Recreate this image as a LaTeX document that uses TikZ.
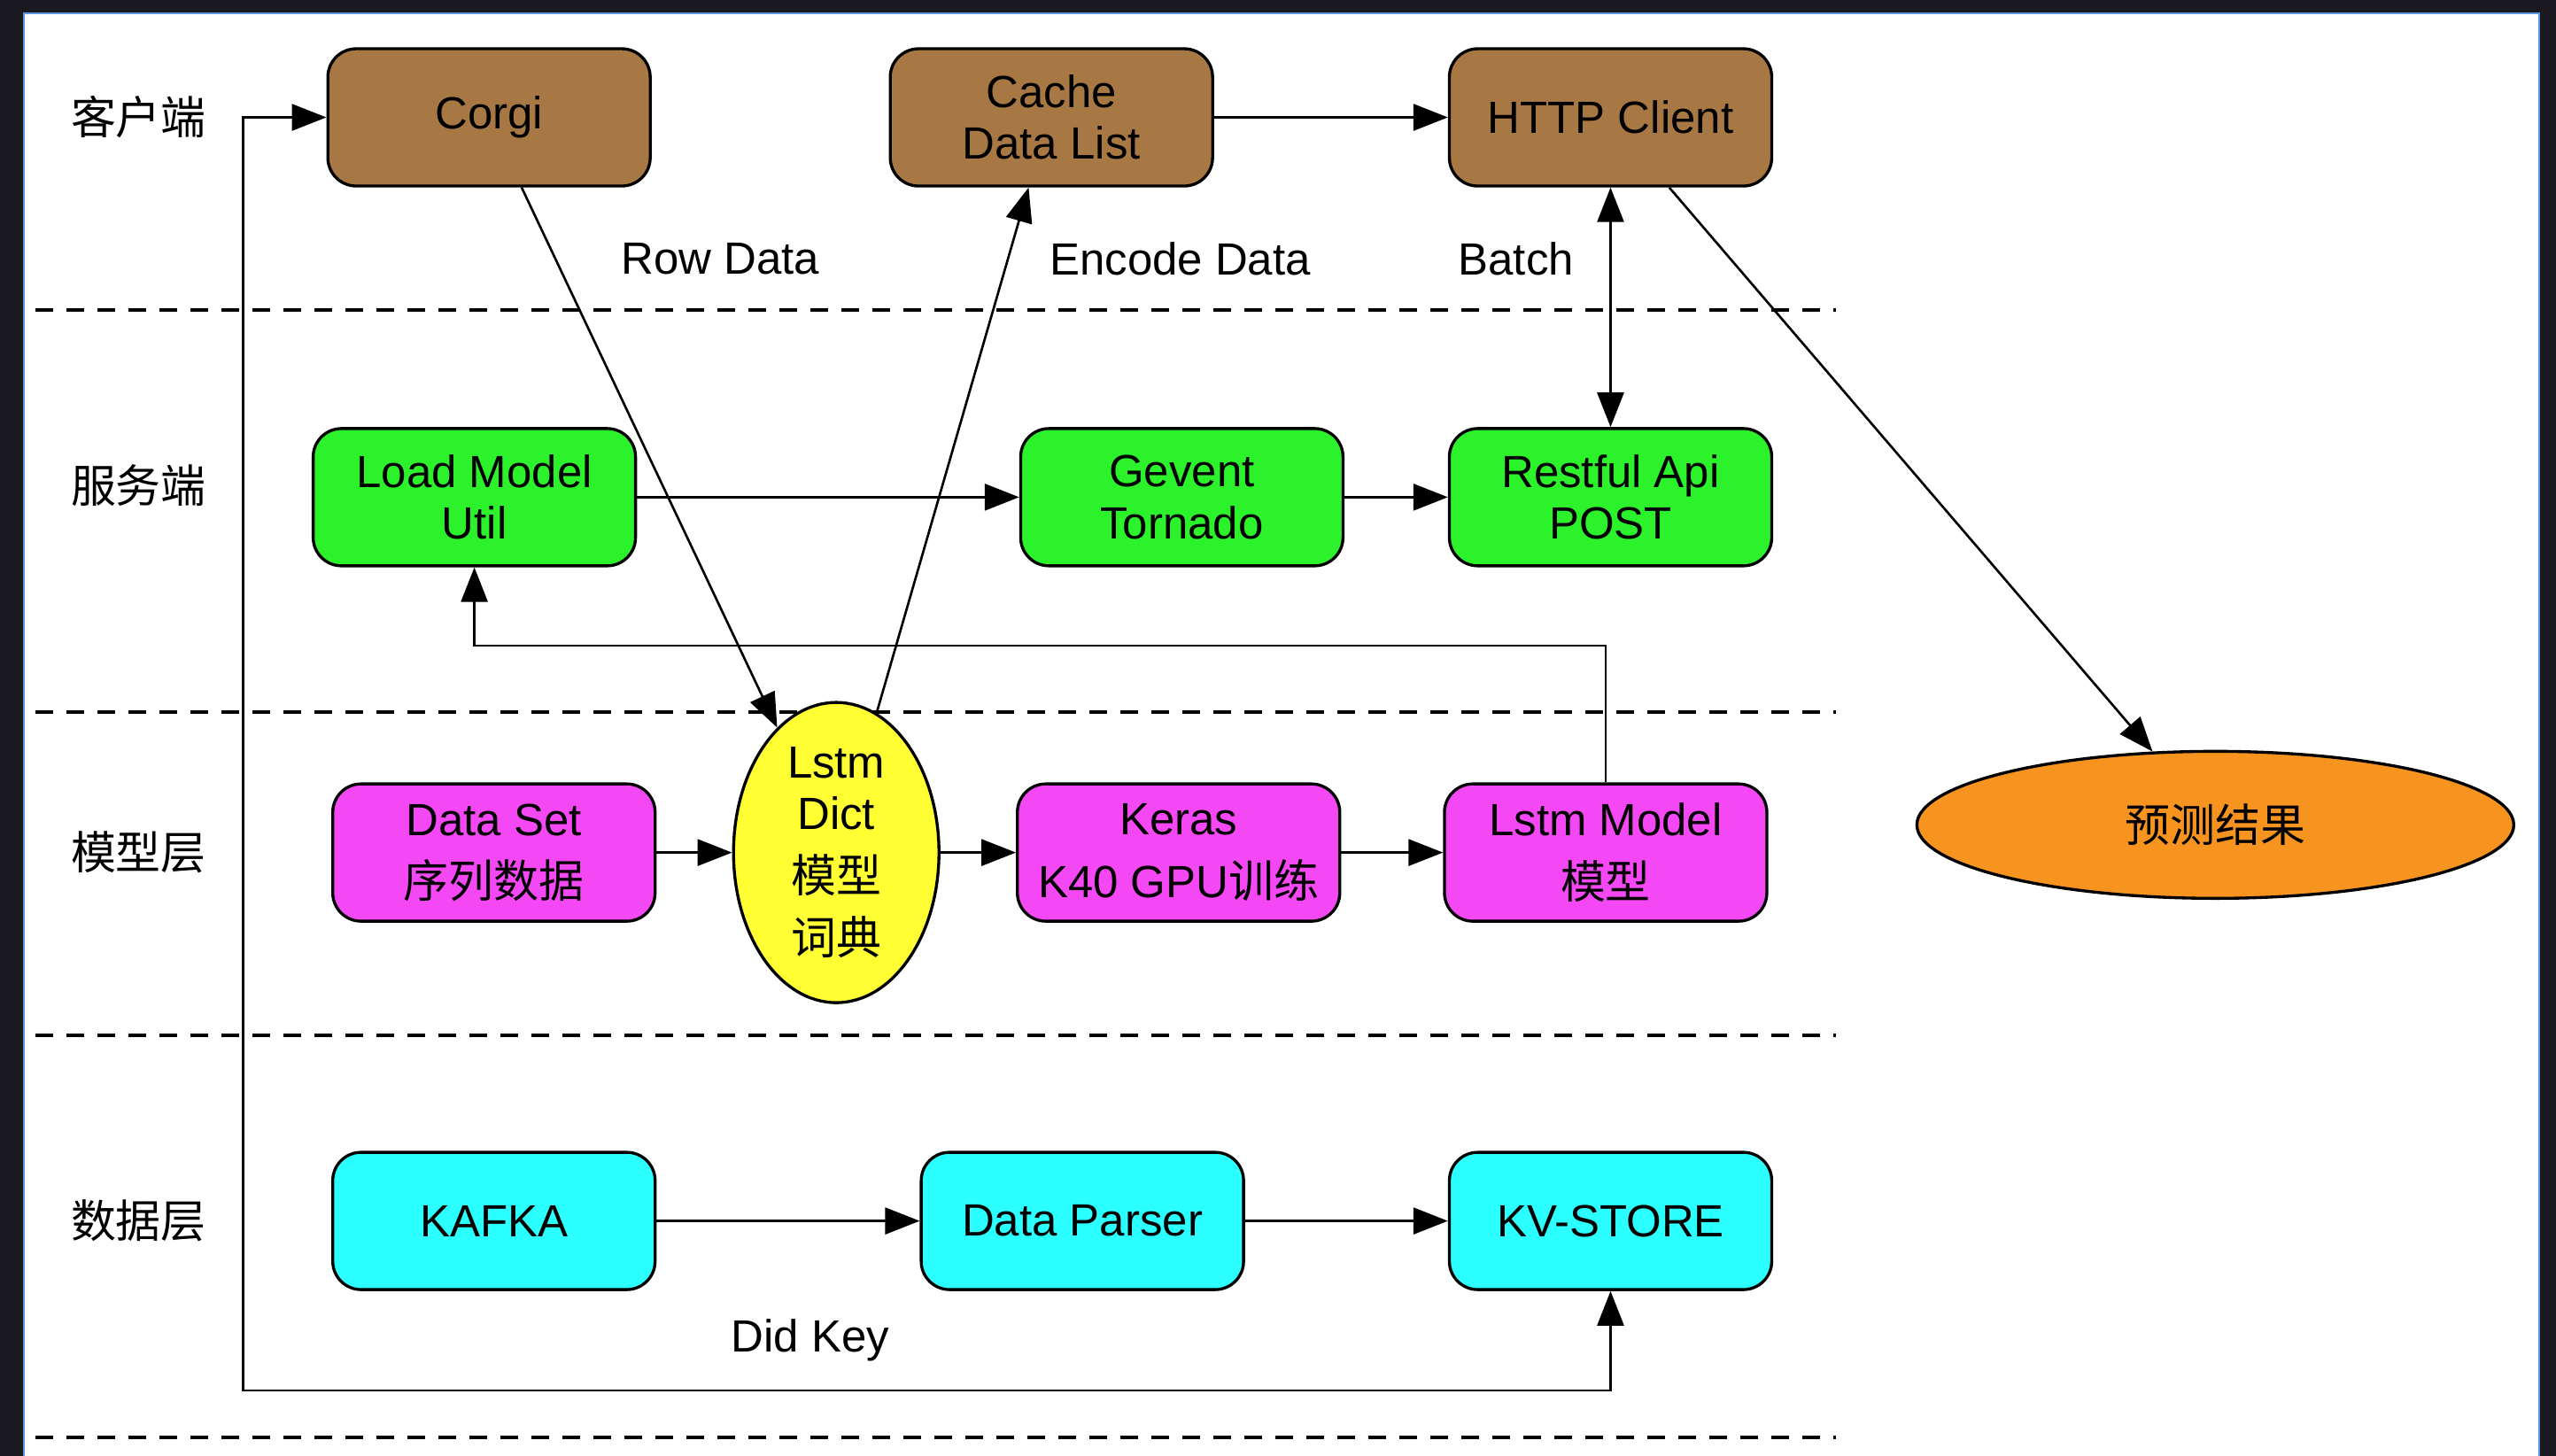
\documentclass[tikz,border=0pt]{standalone}
\usepackage{fontspec}
\setmainfont{Liberation Sans}
\newfontfamily\cjk{Noto Sans CJK SC}
\usepackage{tikz}
\usetikzlibrary{positioning,calc,arrows.meta,shapes.geometric}

\begin{document}
\begin{tikzpicture}[x=0.18406mm, y=-0.18406mm, line width=0.75pt, >={Triangle[length=3.9mm,width=3mm]}]
	\definecolor{framecolor}{RGB}{26,25,31}
	\definecolor{edgecolor}{RGB}{90,150,220}
	\definecolor{clientcolor}{RGB}{168,120,68}
	\definecolor{servercolor}{RGB}{44,242,44}
	\definecolor{modelcolor}{RGB}{245,72,245}
	\definecolor{dictcolor}{RGB}{255,255,51}
	\definecolor{datacolor}{RGB}{44,255,255}
	\definecolor{predcolor}{RGB}{247,148,32}
	\tikzstyle{every node}=[font=\fontsize{14.5pt}{16.6pt}\selectfont]
	\tikzstyle{block}=[rectangle, rounded corners=3.2mm, minimum width=36.4mm, minimum height=15.5mm, draw=black, line width=0.95pt, align=center, inner sep=2pt]
	\tikzstyle{blob}=[ellipse, draw=black, line width=0.95pt, align=center, inner sep=0pt]
	\tikzstyle{layerline}=[dash pattern=on 2mm off 1.5mm, line width=1.15pt]
	\def\sepleft{22}
	\def\sepright{1126}

	\useasboundingbox (0,0) rectangle (1568,893);
	% Draw the frame and the page
	\fill[framecolor] (0,0) rectangle (1568,893);
	\fill[white] (14.7,8.2) rectangle (1557.6,893);
	\draw[edgecolor, line width=0.4pt] (14.7,893) -- (14.7,8.2) -- (1557.6,8.2) -- (1557.6,893);

	% Draw the dashed lines between the layers
	\foreach \y in {190,437,635,882}
	 \draw[layerline] (\sepleft,\y) -- (\sepright,\y);
	% Draw the layer names
	\foreach \name/\y/\txt in {client/72/客户端, server/298/服务端, model/523/模型层, data/749/数据层}
	 \node (L-\name) at (85,\y) {\cjk \txt};

	% Draw the client layer nodes
	\node[block, fill=clientcolor] (corgi) at (300,72) {Corgi};
	\node[block, fill=clientcolor] (cache) at (645,72) {Cache\\Data List};
	\node[block, fill=clientcolor] (http) at (988,72) {HTTP Client};
	% Draw the server layer nodes
	\node[block, fill=servercolor] (load) at (291,305) {Load Model\\Util};
	\node[block, fill=servercolor] (gevent) at (725,305) {Gevent\\Tornado};
	\node[block, fill=servercolor] (rest) at (988,305) {Restful Api\\POST};
	% Draw the model layer nodes
	\node[block, fill=modelcolor] (dataset) at (303,523) {Data Set\\[1.2mm]{\cjk 序列数据}};
	\node[blob, fill=dictcolor, minimum width=23.2mm, minimum height=33.9mm] (dict) at (513,523) {Lstm\\Dict\\[1.2mm]{\cjk 模型}\\[1.2mm]{\cjk 词典}};
	\node[block, fill=modelcolor] (keras) at (723,523) {Keras\\[1.2mm]K40 GPU{\cjk 训练}};
	\node[block, fill=modelcolor] (lstm) at (985,523) {Lstm Model\\[1.2mm]{\cjk 模型}};
	\node[blob, fill=predcolor, minimum width=67.4mm, minimum height=16.6mm] (pred) at (1359,506) {\cjk 预测结果};
	% Draw the data layer nodes
	\node[block, fill=datacolor] (kafka) at (303,749) {KAFKA};
	\node[block, fill=datacolor] (parser) at (664,749) {Data Parser};
	\node[block, fill=datacolor] (kv) at (988,749) {KV-STORE};

	% Connect the client layer
	\draw[->] (cache) -- (http);
	\draw[<->] (http) -- (rest);
	\draw[->] ($(http.south)+(36,0)$) -- (pred);
	\draw[->] ($(corgi.south)+(20,0)$) -- (dict);
	\draw[->] (dict) -- ($(cache.south)+(-14,0)$);
	% Connect the server layer
	\draw[->] (load) -- (gevent);
	\draw[->] (gevent) -- (rest);
	\draw[->] (lstm.north) -- ++(0,-84) -| (load.south);
	% Connect the model layer
	\draw[->] (dataset) -- (dict);
	\draw[->] (dict) -- (keras);
	\draw[->] (keras) -- (lstm);
	% Connect the data layer, and back to the client
	\draw[->] (kafka) -- (parser);
	\draw[->] (parser) -- (kv);
	\draw[<->] (corgi.west) -- (149,72) -- (149,853) -| (kv.south);

	% Labels of the connectors
	\node (rowlab) at (442,159) {Row Data};
	\node (enclab) at (724,159) {Encode Data};
	\node (batchlab) at (930,159) {Batch};
	\node (didlab) at (497,822) {Did Key};
\end{tikzpicture}
\end{document}
